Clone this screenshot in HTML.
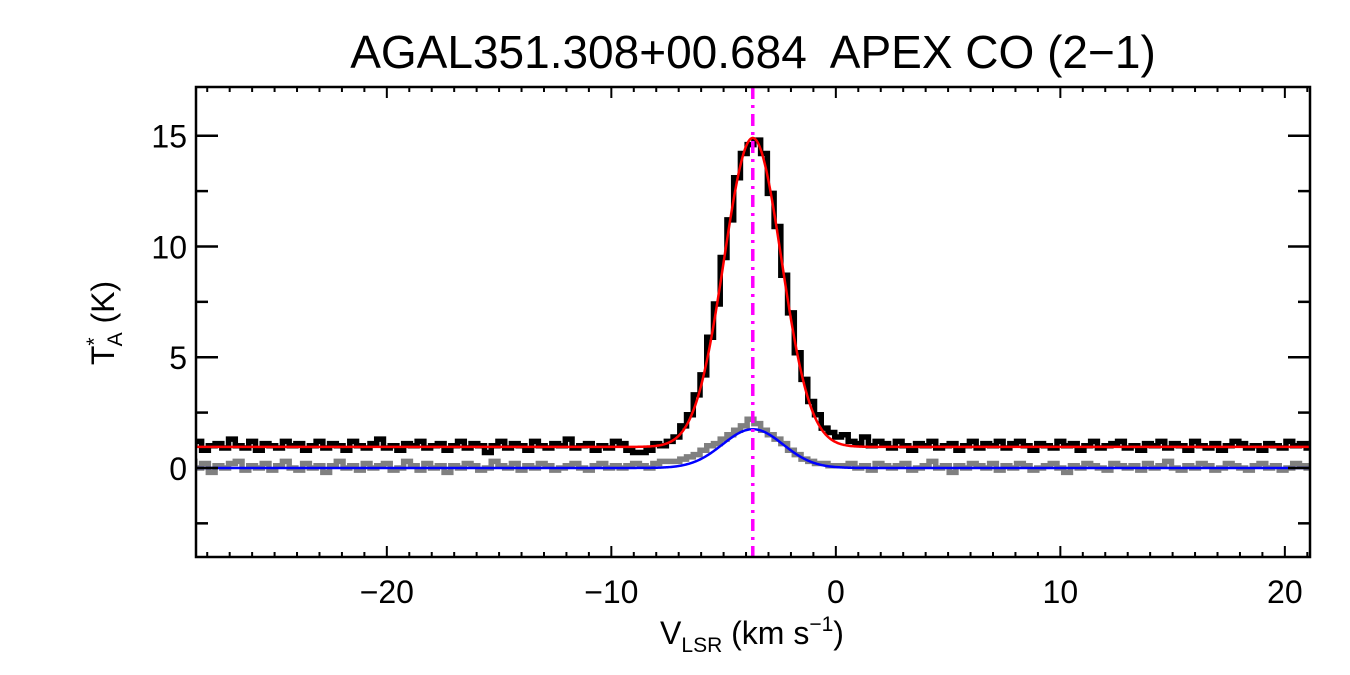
<!DOCTYPE html>
<html><head><meta charset="utf-8">
<style>
html,body{margin:0;padding:0;background:#fff;}
svg{display:block;font-family:"Liberation Sans",sans-serif;}
</style></head>
<body>
<svg id="chart" width="1350" height="675" viewBox="0 0 1350 675" xmlns="http://www.w3.org/2000/svg">
<text x="753" y="68" font-size="46" text-anchor="middle" xml:space="preserve">AGAL351.308+00.684  APEX CO (2−1)</text>
<g id="plot"></g>
<g id="axes"></g>
<text x="752" y="644" font-size="32" text-anchor="middle">V<tspan font-size="21" dy="8">LSR</tspan><tspan dy="-8"> (km s</tspan><tspan font-size="21" dy="-13">−1</tspan><tspan dy="13">)</tspan></text>
<text transform="translate(114,323) rotate(-90)" font-size="32" text-anchor="middle">T<tspan font-size="21" dy="-13">*</tspan><tspan font-size="21" dx="-9" dy="21">A</tspan><tspan dy="-8"> (K)</tspan></text>
</svg>
<script>
const v0 = -29.6, dv = 0.3;
const blackSpec = [
1.0,1.2,0.9,1.1,1.2,0.8,1.0,1.1,0.9,1.3,1.0,0.9,1.2,0.8,1.1,1.0,0.9,1.2,1.0,1.1,
0.8,1.0,1.2,0.9,1.1,1.0,0.8,1.2,1.0,0.9,1.1,1.3,0.9,1.0,0.8,1.1,1.0,1.2,0.9,1.0,
1.1,0.8,1.0,1.2,0.9,1.1,1.0,0.7,1.0,1.2,0.9,1.1,1.0,0.8,1.2,1.0,0.9,1.1,1.0,1.3,
0.9,1.0,1.1,0.8,1.0,0.9,1.2,1.1,0.8,0.7,0.7,0.8,1.1,1.0,
1.2,1.4,1.9,2.4,3.3,4.2,5.9,7.4,9.5,11.2,13.1,14.2,14.6,14.8,14.2,12.4,10.9,8.7,7.0,5.2,4.0,3.0,2.4,1.8,1.6,1.4,
1.5,1.2,1.1,1.4,1.0,1.2,1.1,0.9,1.2,1.0,0.8,1.1,1.0,1.2,0.9,1.0,1.1,0.8,1.0,1.2,
0.9,1.1,1.0,1.2,0.9,1.1,1.2,1.0,0.8,1.1,1.0,0.9,1.2,1.0,1.1,0.8,1.0,1.2,0.9,1.0,
1.1,1.2,0.9,1.0,0.8,1.1,1.0,1.2,0.9,1.1,1.0,0.8,1.2,1.0,0.9,1.1,0.8,1.0,1.2,1.1,
0.9,1.0,0.8,1.1,1.0,0.9,1.2,1.0,1.1,0.9,1.0,1.1];
const graySpec = [
0.2,0.1,-0.1,0.3,0.0,0.2,-0.2,0.1,0.0,0.2,0.3,-0.1,0.1,0.0,0.2,-0.1,0.1,0.3,0.0,-0.1,
0.2,0.0,0.1,-0.2,0.1,0.3,0.0,0.1,-0.1,0.2,0.0,0.1,0.2,-0.1,0.0,0.3,0.1,-0.1,0.2,0.0,
0.1,-0.2,0.1,0.0,0.2,0.1,-0.1,0.0,0.3,0.1,0.0,0.2,-0.1,0.1,0.0,0.2,0.1,-0.1,0.0,0.1,
0.2,0.0,-0.1,0.1,0.2,0.0,0.1,0.0,0.1,0.2,0.1,0.0,0.2,0.3,
0.3,0.3,0.4,0.5,0.6,0.8,1.0,1.1,1.3,1.5,1.7,1.9,2.2,2.0,1.7,1.5,1.3,1.1,0.8,0.6,0.4,0.3,0.2,0.2,0.1,0.1,
0.1,0.2,0.0,0.1,-0.1,0.2,0.1,0.0,0.1,0.2,-0.1,0.0,0.1,0.3,0.0,0.1,-0.2,0.1,0.0,0.2,
0.1,0.0,0.2,-0.1,0.1,0.0,0.2,0.1,-0.1,0.0,0.1,0.2,0.0,-0.2,0.1,0.0,0.2,0.1,0.0,-0.1,
0.2,0.1,0.0,0.1,-0.1,0.2,0.0,0.1,0.3,0.0,-0.1,0.1,0.0,0.2,0.1,-0.1,0.0,0.2,0.1,0.0,
-0.1,0.1,0.2,0.0,0.1,-0.1,0.0,0.2,0.1,0.0,0.1,0.2];
const redFit = [0.95, 13.95, -3.7, 1.28];   // baseline, amplitude, center, sigma
const blueFit = [0.0, 1.75, -3.7, 1.35];
const vCenter = [-3.7];
const xTicks = [-20, -10, 0, 10, 20];
const yTicks = [0, 5, 10, 15];

const L=196, R=1310, T=87, B=557;
const xMin=-28.5, xMax=21.12, yMin=-4.02, yMax=17.2;
const X = v => L + (v - xMin) / (xMax - xMin) * (R - L);
const Y = t => B - (t - yMin) / (yMax - yMin) * (B - T);
const NS = 'http://www.w3.org/2000/svg';
const plot = document.getElementById('plot');
const axes = document.getElementById('axes');
function mk(tag, attrs, parent){ const e=document.createElementNS(NS,tag); for(const k in attrs) e.setAttribute(k,attrs[k]); parent.appendChild(e); return e; }

const defs = mk('defs',{},plot);
const cp = mk('clipPath',{id:'clip'},defs);
mk('rect',{x:L,y:T,width:R-L,height:B-T},cp);
const g = mk('g',{'clip-path':'url(#clip)'},plot);

function stepPath(arr){
  let d='';
  arr.forEach((t,i)=>{
    const v = v0 + dv*i;
    const xa = X(v-dv/2), xb = X(v+dv/2), y = Y(t);
    d += (i===0 ? 'M'+xa+','+y : 'L'+xa+','+y) + 'L'+xb+','+y;
  });
  return d;
}
function gaussPath(p){
  let d='';
  for(let v=xMin; v<=xMax+0.05; v+=0.05){
    const t = p[0] + p[1]*Math.exp(-Math.pow(v-p[2],2)/(2*p[3]*p[3]));
    d += (d===''?'M':'L') + X(v).toFixed(2) + ',' + Y(t).toFixed(2);
  }
  return d;
}
const gs = mk('path',{d:stepPath(graySpec),fill:'none',stroke:'#808080','stroke-width':5.5},g);


const bs = mk('path',{d:stepPath(blackSpec),fill:'none',stroke:'#000','stroke-width':5.5},g);


const rf = mk('path',{d:gaussPath(redFit),fill:'none',stroke:'#ff0000','stroke-width':2.5},g);


const bf = mk('path',{d:gaussPath(blueFit),fill:'none',stroke:'#0000ff','stroke-width':2.5},g);


const vl = mk('line',{x1:X(vCenter[0]),x2:X(vCenter[0]),y1:T,y2:B,stroke:'#ff00ff','stroke-width':3.5,'stroke-dasharray':'12,6,3,6'},g);



const fr = mk('rect',{x:L,y:T,width:R-L,height:B-T,fill:'none',stroke:'#000','stroke-width':2.5},axes);



for(let v=Math.ceil(xMin); v<=xMax; v++){
  const major = v%10===0, len = major?11:5, x=X(v);
  mk('line',{x1:x,x2:x,y1:B,y2:B-len,stroke:'#000','stroke-width':2},axes);
  mk('line',{x1:x,x2:x,y1:T,y2:T+len,stroke:'#000','stroke-width':2},axes);
}
for(let t=-2.5; t<=yMax; t+=2.5){
  const major = t%5===0, len = major?22:12, y=Y(t);
  mk('line',{x1:L,x2:L+len,y1:y,y2:y,stroke:'#000','stroke-width':2.5},axes);
  mk('line',{x1:R,x2:R-len,y1:y,y2:y,stroke:'#000','stroke-width':2.5},axes);
}
xTicks.forEach(v=>{
  const t = mk('text',{x:X(v),y:603,'font-size':32,'text-anchor':'middle'},axes);
  t.textContent = v<0 ? '−'+Math.abs(v) : String(v);
  
  
});
yTicks.forEach(v=>{
  const t = mk('text',{x:187,y:Y(v)+12,'font-size':32,'text-anchor':'end'},axes);
  t.textContent = String(v);
  
  
});
</script>
</body></html>
